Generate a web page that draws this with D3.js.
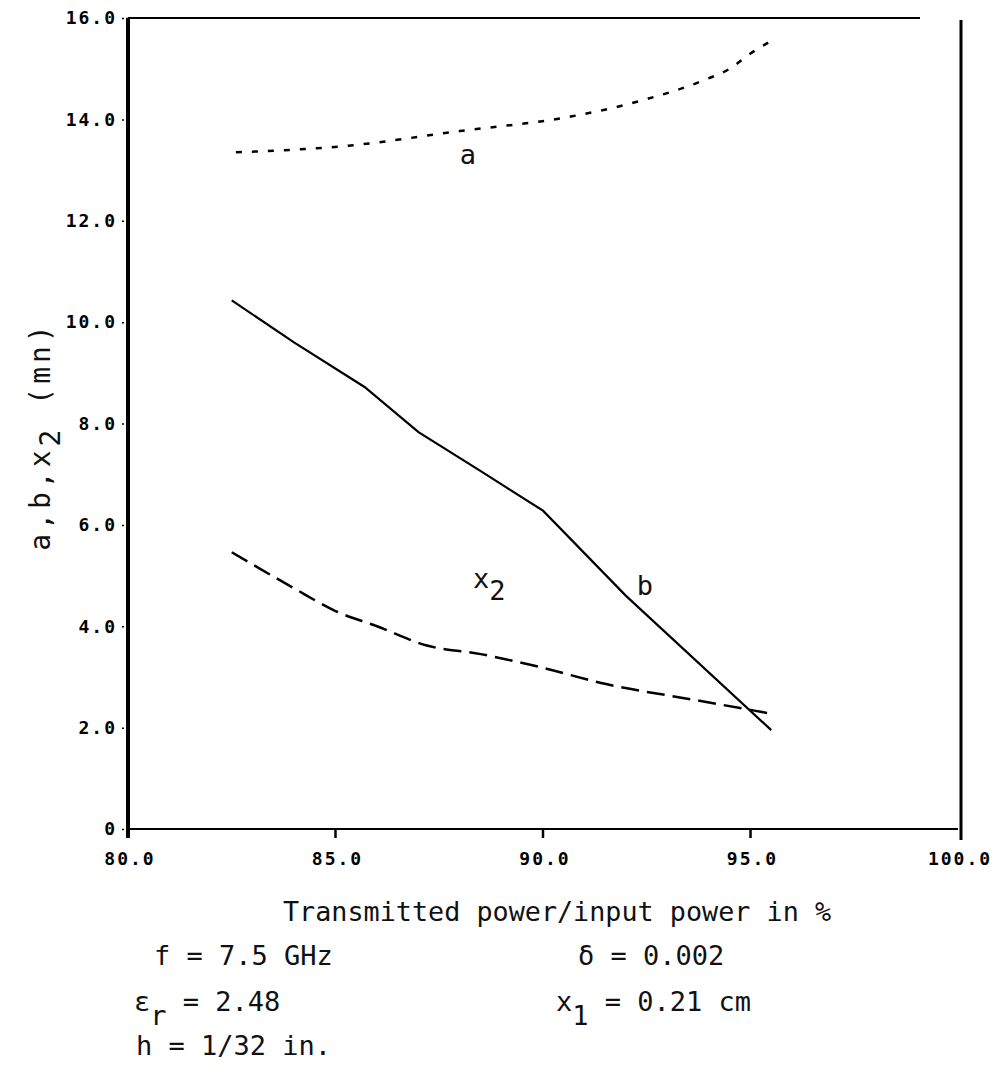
<!DOCTYPE html>
<html>
<head>
<meta charset="utf-8">
<script src="https://cdn.jsdelivr.net/npm/d3@7"></script>
<style>
  body { margin: 0; background: #fff; }
  svg { display: block; }
  .tick-label { font-family: "DejaVu Sans Mono", monospace; font-weight: bold; font-size: 18px; letter-spacing: 2px; fill: #000; }
  .txt { font-family: "DejaVu Sans Mono", monospace; font-size: 27px; fill: #111; }
</style>
</head>
<body>
<div class="chart"></div>
<script>
// values
var xTicks = [80, 85, 90, 95, 100],
    xTickLabels = ['80.0', '85.0', '90.0', '95.0', '100.0'],
    yTicks = [0, 2, 4, 6, 8, 10, 12, 14, 16],
    yTickLabels = ['0', '2.0', '4.0', '6.0', '8.0', '10.0', '12.0', '14.0', '16.0'];

var aPower = [82.6, 85.3, 88.0, 90.7, 92.5, 93.9, 94.5, 95.0, 95.5],
    aValue = [13.35, 13.48, 13.77, 14.06, 14.4, 14.78, 15.0, 15.3, 15.55];

var bPower = [82.5, 84.0, 85.7, 87.0, 88.5, 90.0, 92.0, 95.5],
    bValue = [10.43, 9.6, 8.72, 7.83, 7.06, 6.28, 4.6, 1.95];

var x2Power = [82.5, 84.0, 85.0, 86.0, 87.2, 88.5, 90.0, 91.4, 93.7, 95.4],
    x2Value = [5.46, 4.75, 4.3, 4.0, 3.62, 3.45, 3.18, 2.88, 2.54, 2.29];

var W = 995, H = 1072;

var x = d3.scaleLinear().domain([80, 100]).range([128, 958]),
    y = d3.scaleLinear().domain([0, 16]).range([829, 18]);

var svg = d3.select('.chart').append('svg')
    .attr('width', W)
    .attr('height', H);

// frame
svg.append('line').attr('x1', x(80)).attr('x2', x(80)).attr('y1', y(16)).attr('y2', y(0) + 9)
    .attr('stroke', '#000').attr('stroke-width', 4);
svg.append('line').attr('x1', x(80)).attr('x2', x(100)).attr('y1', y(0)).attr('y2', y(0))
    .attr('stroke', '#000').attr('stroke-width', 2.2);
svg.append('line').attr('x1', x(80)).attr('x2', 920).attr('y1', y(16)).attr('y2', y(16))
    .attr('stroke', '#000').attr('stroke-width', 2.2);
svg.append('line').attr('x1', x(100) + 3).attr('x2', x(100) + 3).attr('y1', y(16) + 2).attr('y2', y(0) + 11)
    .attr('stroke', '#000').attr('stroke-width', 3);

// y ticks
var yAxis = d3.axisLeft(y).tickValues(yTicks).tickSize(8).tickPadding(3)
    .tickFormat(function(d, i) { return yTickLabels[i]; });
var gy = svg.append('g').attr('transform', 'translate(' + x(80) + ',0)').call(yAxis);
gy.select('.domain').remove();
gy.selectAll('.tick line').attr('stroke', '#000').attr('stroke-width', 1.5).attr('stroke-dasharray', '2,2');
gy.selectAll('.tick text').attr('class', 'tick-label');

// x ticks
var gx = svg.append('g').attr('transform', 'translate(0,' + y(0) + ')');
gx.selectAll('line.t').data(xTicks.slice(1, 4)).enter().append('line')
    .attr('x1', function(d) { return x(d); }).attr('x2', function(d) { return x(d); })
    .attr('y1', 0).attr('y2', 9).attr('stroke', '#000').attr('stroke-width', 2.5);
gx.selectAll('text').data(xTicks).enter().append('text')
    .attr('class', 'tick-label')
    .attr('x', function(d) { return x(d) + 2; })
    .attr('y', 36)
    .attr('text-anchor', 'middle')
    .text(function(d, i) { return xTickLabels[i]; });

// curves
var line = d3.line()
    .x(function(d) { return x(d[0]); })
    .y(function(d) { return y(d[1]); })
    .curve(d3.curveMonotoneX);

svg.append('path')
    .attr('d', line(d3.zip(aPower, aValue)))
    .attr('fill', 'none').attr('stroke', '#000').attr('stroke-width', 2.5)
    .attr('stroke-dasharray', '6,10');
svg.append('path')
    .attr('d', d3.line().x(function(d) { return x(d[0]); }).y(function(d) { return y(d[1]); })(d3.zip(bPower, bValue)))
    .attr('fill', 'none').attr('stroke', '#000').attr('stroke-width', 2.2);
svg.append('path')
    .attr('d', line(d3.zip(x2Power, x2Value)))
    .attr('fill', 'none').attr('stroke', '#000').attr('stroke-width', 2.5)
    .attr('stroke-dasharray', '18,8');

// curve labels
svg.append('text').attr('class', 'txt').attr('x', 468).attr('y', 164).attr('text-anchor', 'middle').text('a');
svg.append('text').attr('class', 'txt').attr('x', 645).attr('y', 595).attr('text-anchor', 'middle').text('b');
var x2l = svg.append('text').attr('class', 'txt').attr('x', 473).attr('y', 588);
x2l.append('tspan').text('x');
x2l.append('tspan').attr('dy', 12).text('2');

// axis titles
svg.append('text').attr('class', 'txt')
    .attr('x', 557).attr('y', 921).attr('text-anchor', 'middle')
    .attr('textLength', 548).attr('lengthAdjust', 'spacingAndGlyphs')
    .text('Transmitted power/input power in %');

var yl = svg.append('text').attr('class', 'txt')
    .attr('transform', 'translate(50,436) rotate(-90)')
    .attr('text-anchor', 'middle')
    .style('font-size', '28px')
    .style('letter-spacing', '4px');
yl.append('tspan').text('a,b,x');
yl.append('tspan').attr('dy', 10).text('2');
yl.append('tspan').attr('dy', -10).text(' (mn)');

// parameters
function note(px, py, main, sub, rest) {
    var t = svg.append('text').attr('class', 'txt').attr('x', px).attr('y', py);
    t.append('tspan').text(main);
    if (sub) {
        t.append('tspan').attr('dy', 14).text(sub);
        t.append('tspan').attr('dy', -14).text(rest);
    }
}
note(154, 965, 'f = 7.5 GHz');
note(578, 965, '\u03b4 = 0.002');
note(134, 1011, '\u03b5', 'r', ' = 2.48');
note(556, 1011, 'x', '1', ' = 0.21 cm');
note(136, 1055, 'h = 1/32 in.');
</script>
</body>
</html>
